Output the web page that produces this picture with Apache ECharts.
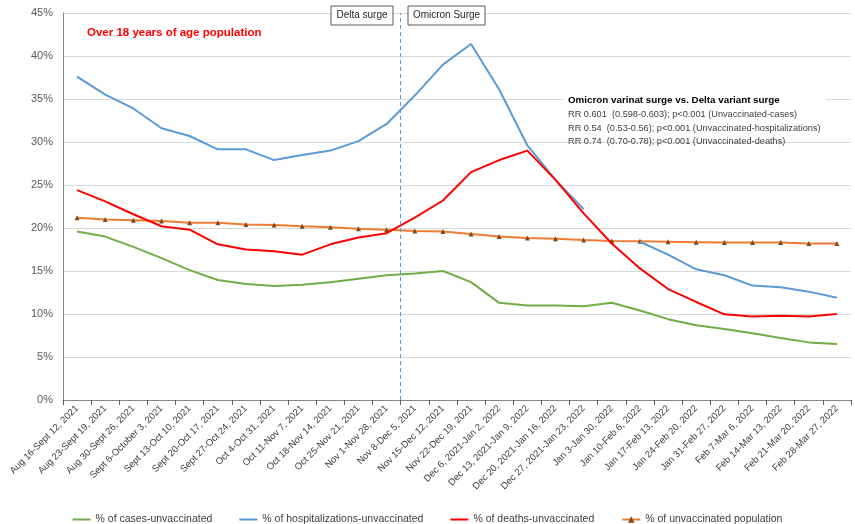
<!DOCTYPE html>
<html><head><meta charset="utf-8">
<script src="https://cdn.jsdelivr.net/npm/echarts@6/dist/echarts.min.js"></script>
<style>html,body{margin:0;padding:0;background:#fff}#c{width:855px;height:524px}</style>
</head><body><div id="c"></div>
<script>
const categories = ["Aug 16-Sept 12, 2021","Aug 23-Sept 19, 2021","Aug 30-Sept 26, 2021","Sept 6-October 3, 2021","Sept 13-Oct 10, 2021","Sept 20-Oct 17, 2021","Sept 27-Oct 24, 2021","Oct 4-Oct 31, 2021","Oct 11-Nov 7, 2021","Oct 18-Nov 14, 2021","Oct 25-Nov 21, 2021","Nov 1-Nov 28, 2021","Nov 8-Dec 5, 2021","Nov 15-Dec 12, 2021","Nov 22-Dec 19, 2021","Dec 6, 2021-Jan 2, 2022","Dec 13, 2021-Jan 9, 2022","Dec 20, 2021-Jan 16, 2022","Dec 27, 2021-Jan 23, 2022","Jan 3-Jan 30, 2022","Jan 10-Feb 6, 2022","Jan 17-Feb 13, 2022","Jan 24-Feb 20, 2022","Jan 31-Feb 27, 2022","Feb 7-Mar 6, 2022","Feb 14-Mar 13, 2022","Feb 21-Mar 20, 2022","Feb 28-Mar 27, 2022"];
const casesUnvax = [19.6,19.0,17.8,16.5,15.1,13.95,13.5,13.25,13.4,13.7,14.1,14.5,14.7,15.0,13.7,11.3,11.0,11.0,10.9,11.3,10.4,9.4,8.7,8.25,7.75,7.2,6.7,6.5];
const hospUnvax = [37.6,35.5,33.9,31.6,30.7,29.15,29.15,27.9,28.5,29.0,30.1,32.1,35.4,39.0,41.4,36.1,29.6,25.6,22.2,null,18.4,16.9,15.2,14.5,13.3,13.1,12.6,11.9];
const deathsUnvax = [24.4,23.1,21.6,20.2,19.8,18.1,17.5,17.3,16.9,18.1,18.9,19.4,21.2,23.2,26.5,27.9,29.0,25.6,21.7,18.2,15.3,12.9,11.4,9.96,9.7,9.8,9.7,10.0];
const unvaxPopulation = [21.2,21.0,20.9,20.8,20.6,20.6,20.4,20.35,20.2,20.1,19.9,19.8,19.65,19.6,19.3,19.0,18.85,18.75,18.6,18.5,18.45,18.4,18.35,18.3,18.3,18.3,18.2,18.2];
const yTicks = {min:0, max:45, interval:5};
const surgeBoundary = 11.5; // between "Nov 1-Nov 28" and "Nov 8-Dec 5"
const seriesNames = ["% of cases-unvaccinated","% of hospitalizations-unvaccinated","% of deaths-unvaccinated","% of unvaccinated population"];
const titleText = "Over 18 years of age population";
const noteTitle = "Omicron varinat surge vs. Delta variant surge";
const noteLines = ["RR 0.601  (0.598-0.603); p<0.001 (Unvaccinated-cases)","RR 0.54  (0.53-0.56); p<0.001 (Unvaccinated-hospitalizations)","RR 0.74  (0.70-0.78); p<0.001 (Unvaccinated-deaths)"];

const FONT = "Liberation Sans";
const LINE_ICON = 'path://M0,0 L0.01,0 L0.01,0.01 Z M0,3 L18,3 L18,5 L0,5 Z M0,8 L0.01,8 L0.01,7.99 Z';
const chart = echarts.init(document.getElementById('c'));
chart.setOption({
  backgroundColor:'#fff',
  animation:false,
  textStyle:{fontFamily:FONT},
  grid:{left:63,right:4,top:13,bottom:124,containLabel:false},
  xAxis:[{
    type:'category', data:categories, boundaryGap:true,
    axisLine:{lineStyle:{color:'#868686',width:1}},
    axisTick:{show:true,length:5,lineStyle:{color:'#595959'}},
    axisLabel:{rotate:45,interval:0,fontSize:9.5,color:'#404040',fontFamily:FONT,margin:7}
  },{
    type:'value', min:-0.5, max:27.5, show:false
  }],
  yAxis:{
    type:'value', min:yTicks.min, max:yTicks.max, interval:yTicks.interval,
    axisLine:{show:true,onZero:false,lineStyle:{color:'#868686'}},
    axisTick:{show:false},
    axisLabel:{formatter:'{value}%',fontSize:11,color:'#595959',margin:10},
    splitLine:{lineStyle:{color:'#d9d9d9'}}
  },
  legend:{
    top:509, left:'center', itemGap:27, itemWidth:18, itemHeight:8,
    textStyle:{fontSize:10.5,color:'#404040',fontFamily:FONT},
    data:[
      {name:seriesNames[0],icon:LINE_ICON},
      {name:seriesNames[1],icon:LINE_ICON},
      {name:seriesNames[2],icon:LINE_ICON},
      {name:seriesNames[3]}
    ]
  },
  series:[
    {name:seriesNames[0],type:'line',data:casesUnvax,showSymbol:false,symbol:'none',lineStyle:{color:'#70ad47',width:2},itemStyle:{color:'#70ad47'}},
    {name:seriesNames[1],type:'line',data:hospUnvax,showSymbol:false,symbol:'none',connectNulls:false,lineStyle:{color:'#5b9bd5',width:2},itemStyle:{color:'#5b9bd5'}},
    {name:seriesNames[2],type:'line',data:deathsUnvax,showSymbol:false,symbol:'none',lineStyle:{color:'#ff0000',width:2},itemStyle:{color:'#ff0000'}},
    {name:seriesNames[3],type:'line',data:unvaxPopulation,symbol:'triangle',symbolSize:5,z:1,
      lineStyle:{color:'#ed7d31',width:2},itemStyle:{color:'#7f4a1c',borderWidth:0}},
    {type:'line',xAxisIndex:1,data:[],silent:true,
      markLine:{silent:true,symbol:['none','none'],label:{show:false},
        lineStyle:{type:[4,3],color:'#5b9bd5',width:1},
        data:[{xAxis:surgeBoundary}]}}
  ],
  graphic:[
    {type:'text',z:100,left:87,top:27,style:{text:titleText,fill:'#ff0000',font:'bold 11.5px '+FONT}},
    {type:'rect',z:100,shape:{x:331,y:6,width:62,height:19},style:{fill:'#fff',stroke:'#595959',lineWidth:1}},
    {type:'text',z:101,x:362,y:15.5,style:{text:'Delta surge',fill:'#262626',font:'10px '+FONT,align:'center',verticalAlign:'middle'}},
    {type:'rect',z:100,shape:{x:408,y:6,width:77,height:19},style:{fill:'#fff',stroke:'#595959',lineWidth:1}},
    {type:'text',z:101,x:446.5,y:15.5,style:{text:'Omicron Surge',fill:'#262626',font:'10px '+FONT,align:'center',verticalAlign:'middle'}},
    {type:'rect',z:100,shape:{x:564,y:92,width:262,height:48},style:{fill:'#fff'}},
    {type:'text',z:101,left:568,top:95,style:{text:noteTitle,fill:'#000',font:'bold 9.8px '+FONT}},
    {type:'text',z:101,left:568,top:108,style:{text:noteLines.join('\n'),fill:'#404040',font:'9.2px '+FONT,lineHeight:13.4}}
  ]
});
</script></body></html>
